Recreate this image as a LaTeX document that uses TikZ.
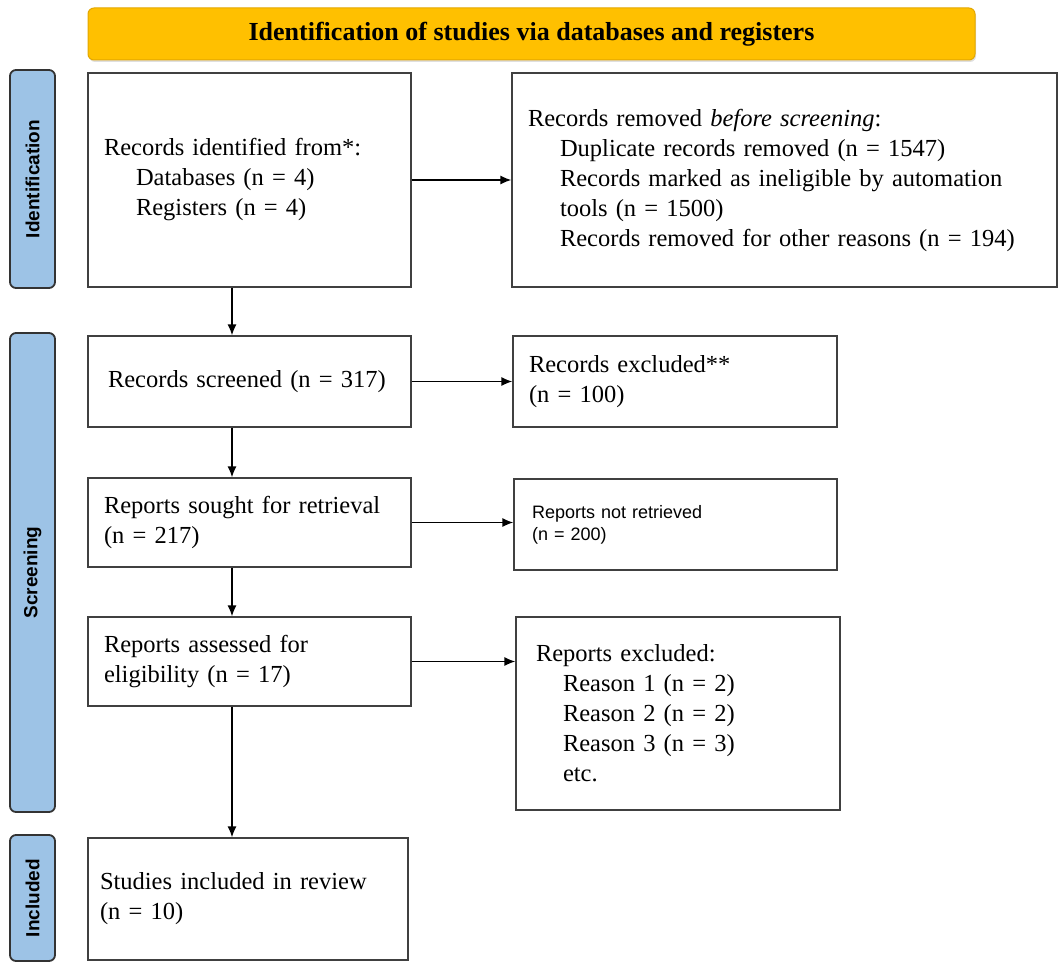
\documentclass[tikz,border=0pt]{standalone}
\usepackage{fontspec}
\setmainfont{Liberation Serif}
\setsansfont{Liberation Sans}
\usetikzlibrary{arrows.meta}
\usetikzlibrary{shadows}
\definecolor{hdryellow}{HTML}{FFC000}
\definecolor{hdredge}{HTML}{E3A700}
\definecolor{phaseblue}{HTML}{9DC3E6}
\definecolor{boxgray}{HTML}{404040}

\begin{document}
\begin{tikzpicture}[x=1pt,y=-1pt,
    box/.style={draw=boxgray,line width=1.3pt,inner xsep=16pt,inner ysep=0pt,align=left,font=\fontsize{24.5}{30}\selectfont},
    phase/.style={draw=black!80,fill=phaseblue,line width=1.8pt,rounded corners=6pt,rotate=90,minimum height=45pt,font=\sffamily\bfseries\fontsize{19}{22}\selectfont},
    flow/.style={-{Latex[length=11pt,width=9pt]},line width=1.4pt}]
    \useasboundingbox (0,0) rectangle (1059,963);
    % header and phase bars
    \node[draw=hdredge,fill=hdryellow,line width=1pt,rounded corners=6pt,minimum width=887pt,minimum height=52pt,
          drop shadow={opacity=0.25,shadow xshift=1pt,shadow yshift=-2pt},
          font=\bfseries\fontsize{26}{30}\selectfont] (hdr) at (531.5,34) {Identification of studies via databases and registers};
    \node[phase,minimum width=218pt] (pid) at (32.5,179) {Identification};
    \node[phase,minimum width=479pt] (psc) at (32.5,572.5) {Screening};
    \node[phase,minimum width=126pt] (pin) at (32.5,898) {Included};
    % boxes
    \node[box,text width=291pt,minimum height=214pt] (rid) at (249.5,180)
        {Records identified from*:\\\hspace*{32pt}Databases (n = 4)\\\hspace*{32pt}Registers (n = 4)};
    \node[box,text width=513pt,minimum height=214pt] (rrm) at (784.5,180)
        {Records removed \textit{before screening}:\\\hspace*{32pt}Duplicate records removed (n = 1547)\\\hspace*{32pt}Records marked as ineligible by automation\\\hspace*{32pt}tools (n = 1500)\\\hspace*{32pt}Records removed for other reasons (n = 194)};
    \node[box,inner xsep=20pt,text width=283pt,minimum height=91pt] (rsc) at (249.5,381.5) {Records screened (n = 317)};
    \node[box,text width=292pt,minimum height=91pt] (rex) at (675,381.5) {Records excluded**\\(n = 100)};
    \node[box,text width=291pt,minimum height=89pt] (rsr) at (249.5,522.5) {Reports sought for retrieval\\(n = 217)};
    \node[box,inner xsep=18pt,text width=287pt,minimum height=91pt,font=\sffamily\fontsize{18}{22}\selectfont] (rnr) at (675.5,524.5)
        {Reports not retrieved\\(n = 200)};
    \node[box,text width=291pt,minimum height=89pt] (ras) at (249.5,661.5) {Reports assessed for\\eligibility (n = 17)};
    \node[box,inner xsep=20pt,text width=284pt,minimum height=193pt] (rre) at (678,713.5)
        {Reports excluded:\\\hspace*{27pt}Reason 1 (n = 2)\\\hspace*{27pt}Reason 2 (n = 2)\\\hspace*{27pt}Reason 3 (n = 3)\\\hspace*{27pt}etc.};
    \node[box,inner xsep=12pt,text width=296pt,minimum height=122pt] (sin) at (248,899) {Studies included in review\\(n = 10)};
    % arrows
    \coordinate (spine) at (232,0);
    \draw[flow] (rid.south -| spine) -- (rsc.north -| spine);
    \draw[flow] (rsc.south -| spine) -- (rsr.north -| spine);
    \draw[flow] (rsr.south -| spine) -- (ras.north -| spine);
    \draw[flow] (ras.south -| spine) -- (sin.north -| spine);
    \draw[flow] (rid.east) -- (rrm.west);
    \draw[flow] (rsc.east) -- (rex.west);
    \draw[flow] (rsr.east) -- (rsr.east -| rnr.west);
    \draw[flow] (ras.east) -- (ras.east -| rre.west);
\end{tikzpicture}
\end{document}
